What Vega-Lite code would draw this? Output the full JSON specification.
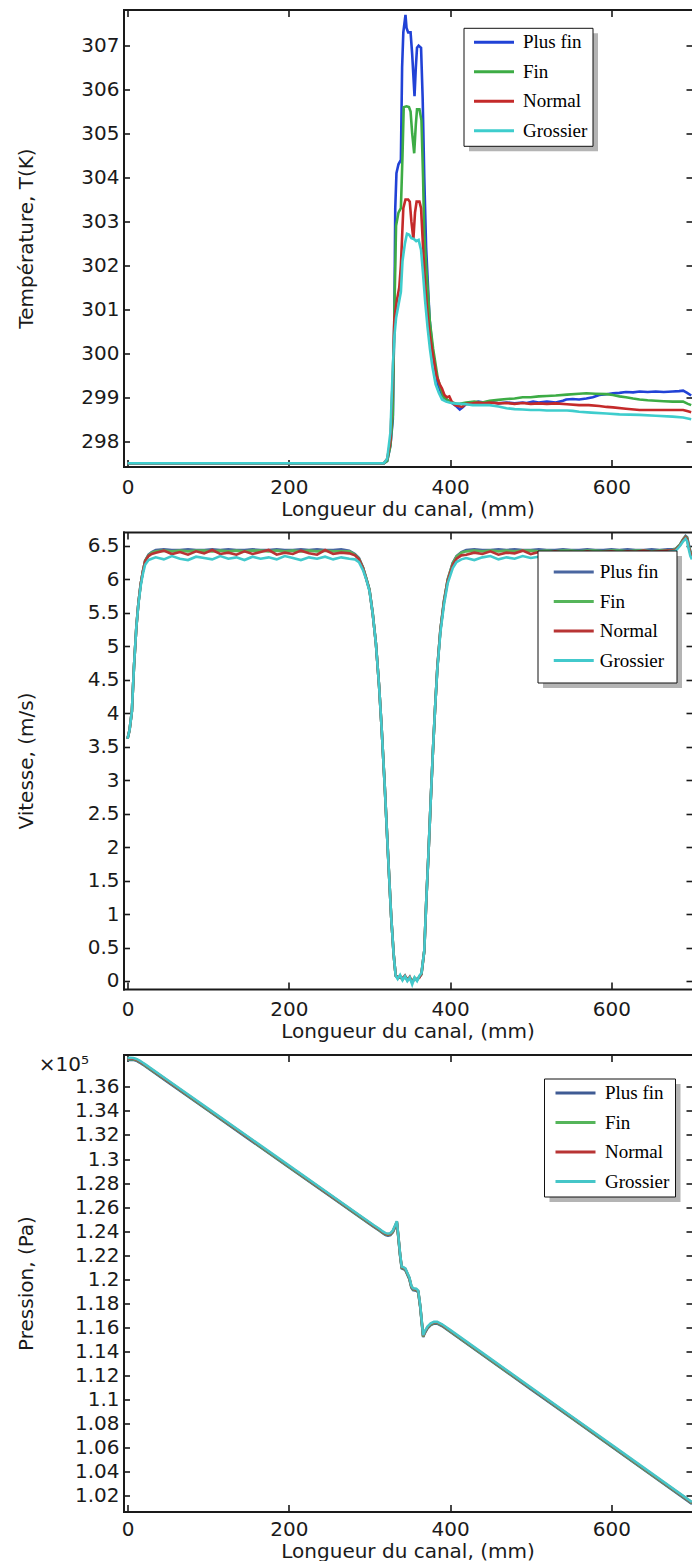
{
"$schema": "https://vega.github.io/schema/vega-lite/v6.json",
"background": "white",
"padding": {"left": 16.5, "top": 8.5, "right": 0, "bottom": 0},
"spacing": 11.5,
"config": {
  "view": {"stroke": null},
  "axis": {"grid": false, "domain": true, "domainColor": "#1a1a1a", "domainWidth": 2, "domainCap": "square", "tickColor": "#1a1a1a", "tickWidth": 1.6, "labelFont": "DejaVu Sans", "labelFontSize": 20, "labelColor": "#1a1a1a", "titleFont": "DejaVu Sans", "titleFontSize": 20, "titleFontWeight": "normal", "titleColor": "#1a1a1a", "labelOverlap": false, "labelFlush": false, "labelBound": false},
  "legend": {"labelFont": "Liberation Serif", "labelFontSize": 19, "labelColor": "#000000", "symbolType": "M-2.5,0H2.5", "symbolSize": 256, "symbolStrokeWidth": 3, "rowPadding": 9.5}
},
"datasets": {
"temp": [
{"x":0,"T":297.5,"m":"Plus fin"},{"x":100,"T":297.5,"m":"Plus fin"},{"x":200,"T":297.5,"m":"Plus fin"},{"x":300,"T":297.5,"m":"Plus fin"},{"x":318,"T":297.5,"m":"Plus fin"},{"x":322,"T":297.55,"m":"Plus fin"},{"x":326,"T":297.9,"m":"Plus fin"},{"x":329,"T":298.5,"m":"Plus fin"},{"x":331,"T":301.0,"m":"Plus fin"},{"x":332,"T":303.3,"m":"Plus fin"},{"x":333.5,"T":304.1,"m":"Plus fin"},{"x":336,"T":304.3,"m":"Plus fin"},{"x":339,"T":304.4,"m":"Plus fin"},{"x":340.5,"T":306.5,"m":"Plus fin"},{"x":342,"T":307.3,"m":"Plus fin"},{"x":344.7,"T":307.7,"m":"Plus fin"},{"x":346,"T":307.4,"m":"Plus fin"},{"x":348,"T":307.3,"m":"Plus fin"},{"x":351,"T":307.3,"m":"Plus fin"},{"x":353,"T":306.8,"m":"Plus fin"},{"x":355.9,"T":305.85,"m":"Plus fin"},{"x":357.5,"T":306.5,"m":"Plus fin"},{"x":359,"T":306.95,"m":"Plus fin"},{"x":361,"T":307.0,"m":"Plus fin"},{"x":364,"T":306.95,"m":"Plus fin"},{"x":366,"T":305.8,"m":"Plus fin"},{"x":368,"T":304.0,"m":"Plus fin"},{"x":370.3,"T":302.4,"m":"Plus fin"},{"x":374.5,"T":300.8,"m":"Plus fin"},{"x":378.6,"T":300.0,"m":"Plus fin"},{"x":384.8,"T":299.3,"m":"Plus fin"},{"x":390,"T":299.05,"m":"Plus fin"},{"x":395,"T":298.95,"m":"Plus fin"},{"x":400,"T":298.9,"m":"Plus fin"},{"x":407.5,"T":298.8,"m":"Plus fin"},{"x":412,"T":298.72,"m":"Plus fin"},{"x":416,"T":298.78,"m":"Plus fin"},{"x":420,"T":298.85,"m":"Plus fin"},{"x":428,"T":298.86,"m":"Plus fin"},{"x":435,"T":298.9,"m":"Plus fin"},{"x":442,"T":298.88,"m":"Plus fin"},{"x":449,"T":298.9,"m":"Plus fin"},{"x":460,"T":298.86,"m":"Plus fin"},{"x":470,"T":298.88,"m":"Plus fin"},{"x":480,"T":298.86,"m":"Plus fin"},{"x":490,"T":298.88,"m":"Plus fin"},{"x":495,"T":298.87,"m":"Plus fin"},{"x":503,"T":298.9,"m":"Plus fin"},{"x":510,"T":298.88,"m":"Plus fin"},{"x":520,"T":298.9,"m":"Plus fin"},{"x":531,"T":298.88,"m":"Plus fin"},{"x":540,"T":298.92,"m":"Plus fin"},{"x":544,"T":298.95,"m":"Plus fin"},{"x":552,"T":298.96,"m":"Plus fin"},{"x":560,"T":298.95,"m":"Plus fin"},{"x":569,"T":298.97,"m":"Plus fin"},{"x":577,"T":299.0,"m":"Plus fin"},{"x":585,"T":299.05,"m":"Plus fin"},{"x":594,"T":299.07,"m":"Plus fin"},{"x":602,"T":299.09,"m":"Plus fin"},{"x":610,"T":299.1,"m":"Plus fin"},{"x":618,"T":299.12,"m":"Plus fin"},{"x":627,"T":299.11,"m":"Plus fin"},{"x":635,"T":299.13,"m":"Plus fin"},{"x":645,"T":299.12,"m":"Plus fin"},{"x":655,"T":299.13,"m":"Plus fin"},{"x":665,"T":299.12,"m":"Plus fin"},{"x":676,"T":299.13,"m":"Plus fin"},{"x":684,"T":299.14,"m":"Plus fin"},{"x":689,"T":299.15,"m":"Plus fin"},{"x":694,"T":299.1,"m":"Plus fin"},{"x":699,"T":299.04,"m":"Plus fin"},
{"x":0,"T":297.5,"m":"Fin"},{"x":100,"T":297.5,"m":"Fin"},{"x":200,"T":297.5,"m":"Fin"},{"x":300,"T":297.5,"m":"Fin"},{"x":318,"T":297.5,"m":"Fin"},{"x":322,"T":297.55,"m":"Fin"},{"x":326,"T":297.9,"m":"Fin"},{"x":329,"T":298.6,"m":"Fin"},{"x":331,"T":301.0,"m":"Fin"},{"x":333,"T":302.9,"m":"Fin"},{"x":336,"T":303.2,"m":"Fin"},{"x":339,"T":303.3,"m":"Fin"},{"x":341,"T":304.5,"m":"Fin"},{"x":342.5,"T":305.6,"m":"Fin"},{"x":346,"T":305.62,"m":"Fin"},{"x":349,"T":305.6,"m":"Fin"},{"x":351,"T":305.5,"m":"Fin"},{"x":353,"T":305.0,"m":"Fin"},{"x":355.5,"T":304.55,"m":"Fin"},{"x":357.5,"T":305.2,"m":"Fin"},{"x":359,"T":305.55,"m":"Fin"},{"x":362,"T":305.55,"m":"Fin"},{"x":364.5,"T":305.3,"m":"Fin"},{"x":366.5,"T":304.0,"m":"Fin"},{"x":368,"T":302.7,"m":"Fin"},{"x":371,"T":301.8,"m":"Fin"},{"x":375,"T":300.7,"m":"Fin"},{"x":379,"T":300.1,"m":"Fin"},{"x":385,"T":299.4,"m":"Fin"},{"x":392,"T":299.0,"m":"Fin"},{"x":400,"T":298.9,"m":"Fin"},{"x":408,"T":298.85,"m":"Fin"},{"x":412,"T":298.85,"m":"Fin"},{"x":420,"T":298.88,"m":"Fin"},{"x":430,"T":298.9,"m":"Fin"},{"x":440,"T":298.88,"m":"Fin"},{"x":449,"T":298.92,"m":"Fin"},{"x":460,"T":298.94,"m":"Fin"},{"x":470,"T":298.96,"m":"Fin"},{"x":480,"T":298.97,"m":"Fin"},{"x":490,"T":299.0,"m":"Fin"},{"x":500,"T":299.0,"m":"Fin"},{"x":510,"T":299.02,"m":"Fin"},{"x":520,"T":299.03,"m":"Fin"},{"x":531,"T":299.04,"m":"Fin"},{"x":545,"T":299.06,"m":"Fin"},{"x":560,"T":299.08,"m":"Fin"},{"x":569,"T":299.09,"m":"Fin"},{"x":580,"T":299.08,"m":"Fin"},{"x":594,"T":299.07,"m":"Fin"},{"x":602,"T":299.05,"m":"Fin"},{"x":610,"T":299.02,"m":"Fin"},{"x":618,"T":299.0,"m":"Fin"},{"x":627,"T":298.97,"m":"Fin"},{"x":635,"T":298.95,"m":"Fin"},{"x":645,"T":298.93,"m":"Fin"},{"x":655,"T":298.92,"m":"Fin"},{"x":665,"T":298.91,"m":"Fin"},{"x":676,"T":298.9,"m":"Fin"},{"x":689,"T":298.9,"m":"Fin"},{"x":695,"T":298.85,"m":"Fin"},{"x":699,"T":298.82,"m":"Fin"},
{"x":0,"T":297.5,"m":"Normal"},{"x":100,"T":297.5,"m":"Normal"},{"x":200,"T":297.5,"m":"Normal"},{"x":300,"T":297.5,"m":"Normal"},{"x":318,"T":297.5,"m":"Normal"},{"x":322,"T":297.6,"m":"Normal"},{"x":326,"T":298.0,"m":"Normal"},{"x":329,"T":299.5,"m":"Normal"},{"x":331,"T":300.8,"m":"Normal"},{"x":334,"T":301.2,"m":"Normal"},{"x":337,"T":301.5,"m":"Normal"},{"x":339,"T":302.0,"m":"Normal"},{"x":340.6,"T":302.7,"m":"Normal"},{"x":342,"T":303.3,"m":"Normal"},{"x":344.7,"T":303.5,"m":"Normal"},{"x":348,"T":303.5,"m":"Normal"},{"x":350,"T":303.45,"m":"Normal"},{"x":352,"T":303.0,"m":"Normal"},{"x":354.5,"T":302.6,"m":"Normal"},{"x":356.5,"T":303.2,"m":"Normal"},{"x":358.5,"T":303.45,"m":"Normal"},{"x":362,"T":303.45,"m":"Normal"},{"x":364,"T":303.3,"m":"Normal"},{"x":366.5,"T":302.4,"m":"Normal"},{"x":369,"T":301.6,"m":"Normal"},{"x":372,"T":300.9,"m":"Normal"},{"x":375,"T":300.4,"m":"Normal"},{"x":378,"T":300.05,"m":"Normal"},{"x":383,"T":299.5,"m":"Normal"},{"x":387,"T":299.3,"m":"Normal"},{"x":390,"T":299.2,"m":"Normal"},{"x":393,"T":299.05,"m":"Normal"},{"x":396,"T":299.0,"m":"Normal"},{"x":399,"T":299.02,"m":"Normal"},{"x":402,"T":298.9,"m":"Normal"},{"x":406,"T":298.82,"m":"Normal"},{"x":410,"T":298.8,"m":"Normal"},{"x":415,"T":298.78,"m":"Normal"},{"x":420,"T":298.85,"m":"Normal"},{"x":428,"T":298.86,"m":"Normal"},{"x":435,"T":298.88,"m":"Normal"},{"x":442,"T":298.86,"m":"Normal"},{"x":449,"T":298.88,"m":"Normal"},{"x":460,"T":298.86,"m":"Normal"},{"x":470,"T":298.87,"m":"Normal"},{"x":480,"T":298.85,"m":"Normal"},{"x":490,"T":298.87,"m":"Normal"},{"x":500,"T":298.85,"m":"Normal"},{"x":510,"T":298.86,"m":"Normal"},{"x":520,"T":298.85,"m":"Normal"},{"x":531,"T":298.86,"m":"Normal"},{"x":545,"T":298.84,"m":"Normal"},{"x":560,"T":298.82,"m":"Normal"},{"x":572,"T":298.82,"m":"Normal"},{"x":585,"T":298.8,"m":"Normal"},{"x":594,"T":298.78,"m":"Normal"},{"x":602,"T":298.77,"m":"Normal"},{"x":618,"T":298.74,"m":"Normal"},{"x":635,"T":298.71,"m":"Normal"},{"x":655,"T":298.71,"m":"Normal"},{"x":676,"T":298.71,"m":"Normal"},{"x":689,"T":298.71,"m":"Normal"},{"x":695,"T":298.68,"m":"Normal"},{"x":699,"T":298.66,"m":"Normal"},
{"x":0,"T":297.5,"m":"Grossier"},{"x":100,"T":297.5,"m":"Grossier"},{"x":200,"T":297.5,"m":"Grossier"},{"x":300,"T":297.5,"m":"Grossier"},{"x":318,"T":297.5,"m":"Grossier"},{"x":322,"T":297.6,"m":"Grossier"},{"x":326,"T":298.2,"m":"Grossier"},{"x":329,"T":299.7,"m":"Grossier"},{"x":331,"T":300.4,"m":"Grossier"},{"x":333,"T":300.8,"m":"Grossier"},{"x":336,"T":301.1,"m":"Grossier"},{"x":339,"T":301.4,"m":"Grossier"},{"x":341,"T":302.1,"m":"Grossier"},{"x":344,"T":302.5,"m":"Grossier"},{"x":346.5,"T":302.72,"m":"Grossier"},{"x":349,"T":302.7,"m":"Grossier"},{"x":352,"T":302.62,"m":"Grossier"},{"x":355,"T":302.6,"m":"Grossier"},{"x":358,"T":302.55,"m":"Grossier"},{"x":361,"T":302.58,"m":"Grossier"},{"x":364,"T":302.35,"m":"Grossier"},{"x":366.5,"T":301.8,"m":"Grossier"},{"x":369,"T":301.2,"m":"Grossier"},{"x":372,"T":300.6,"m":"Grossier"},{"x":375,"T":300.1,"m":"Grossier"},{"x":378,"T":299.7,"m":"Grossier"},{"x":382,"T":299.3,"m":"Grossier"},{"x":386,"T":299.1,"m":"Grossier"},{"x":390,"T":298.95,"m":"Grossier"},{"x":395,"T":298.9,"m":"Grossier"},{"x":399,"T":298.88,"m":"Grossier"},{"x":405,"T":298.86,"m":"Grossier"},{"x":412,"T":298.85,"m":"Grossier"},{"x":420,"T":298.84,"m":"Grossier"},{"x":428,"T":298.82,"m":"Grossier"},{"x":440,"T":298.82,"m":"Grossier"},{"x":449,"T":298.82,"m":"Grossier"},{"x":460,"T":298.79,"m":"Grossier"},{"x":470,"T":298.75,"m":"Grossier"},{"x":480,"T":298.73,"m":"Grossier"},{"x":490,"T":298.72,"m":"Grossier"},{"x":500,"T":298.71,"m":"Grossier"},{"x":511,"T":298.71,"m":"Grossier"},{"x":520,"T":298.7,"m":"Grossier"},{"x":531,"T":298.7,"m":"Grossier"},{"x":545,"T":298.7,"m":"Grossier"},{"x":552,"T":298.69,"m":"Grossier"},{"x":560,"T":298.67,"m":"Grossier"},{"x":575,"T":298.65,"m":"Grossier"},{"x":594,"T":298.63,"m":"Grossier"},{"x":610,"T":298.61,"m":"Grossier"},{"x":635,"T":298.6,"m":"Grossier"},{"x":655,"T":298.58,"m":"Grossier"},{"x":676,"T":298.56,"m":"Grossier"},{"x":689,"T":298.54,"m":"Grossier"},{"x":699,"T":298.5,"m":"Grossier"}
],
"vit": [
{"x":0,"v":3.62,"m":"Plus fin"},{"x":2.5,"v":3.75,"m":"Plus fin"},{"x":5.4,"v":4.03,"m":"Plus fin"},{"x":8,"v":4.7,"m":"Plus fin"},{"x":10.9,"v":5.28,"m":"Plus fin"},{"x":13.5,"v":5.65,"m":"Plus fin"},{"x":16.3,"v":5.93,"m":"Plus fin"},{"x":19,"v":6.12,"m":"Plus fin"},{"x":21.8,"v":6.28,"m":"Plus fin"},{"x":26,"v":6.37,"m":"Plus fin"},{"x":30,"v":6.41,"m":"Plus fin"},
{"x":35,"v":6.44,"m":"Plus fin"},{"x":45,"v":6.45,"m":"Plus fin"},{"x":55,"v":6.44,"m":"Plus fin"},{"x":65,"v":6.44,"m":"Plus fin"},{"x":75,"v":6.45,"m":"Plus fin"},{"x":85,"v":6.44,"m":"Plus fin"},{"x":95,"v":6.44,"m":"Plus fin"},{"x":105,"v":6.45,"m":"Plus fin"},{"x":115,"v":6.44,"m":"Plus fin"},{"x":125,"v":6.45,"m":"Plus fin"},{"x":135,"v":6.44,"m":"Plus fin"},{"x":145,"v":6.44,"m":"Plus fin"},{"x":155,"v":6.45,"m":"Plus fin"},{"x":165,"v":6.44,"m":"Plus fin"},{"x":175,"v":6.44,"m":"Plus fin"},{"x":185,"v":6.45,"m":"Plus fin"},{"x":195,"v":6.44,"m":"Plus fin"},{"x":205,"v":6.44,"m":"Plus fin"},{"x":215,"v":6.45,"m":"Plus fin"},{"x":225,"v":6.44,"m":"Plus fin"},{"x":235,"v":6.45,"m":"Plus fin"},{"x":245,"v":6.44,"m":"Plus fin"},{"x":255,"v":6.44,"m":"Plus fin"},{"x":265,"v":6.45,"m":"Plus fin"},{"x":275,"v":6.43,"m":"Plus fin"},
{"x":282,"v":6.38,"m":"Plus fin"},{"x":287,"v":6.32,"m":"Plus fin"},{"x":292,"v":6.18,"m":"Plus fin"},{"x":296,"v":6.02,"m":"Plus fin"},{"x":300,"v":5.85,"m":"Plus fin"},{"x":304,"v":5.5,"m":"Plus fin"},{"x":308,"v":5.05,"m":"Plus fin"},{"x":312,"v":4.4,"m":"Plus fin"},{"x":315,"v":3.8,"m":"Plus fin"},{"x":319,"v":2.9,"m":"Plus fin"},{"x":323,"v":1.9,"m":"Plus fin"},{"x":327,"v":0.95,"m":"Plus fin"},{"x":330,"v":0.4,"m":"Plus fin"},{"x":332.5,"v":0.08,"m":"Plus fin"},
{"x":335,"v":0.05,"m":"Plus fin"},{"x":338,"v":0.07,"m":"Plus fin"},{"x":341,"v":0.03,"m":"Plus fin"},{"x":344,"v":0.06,"m":"Plus fin"},{"x":347,"v":0.02,"m":"Plus fin"},{"x":350,"v":0.04,"m":"Plus fin"},{"x":353,"v":0.0,"m":"Plus fin"},{"x":356,"v":0.04,"m":"Plus fin"},{"x":359,"v":0.02,"m":"Plus fin"},{"x":362,"v":0.06,"m":"Plus fin"},{"x":364.5,"v":0.1,"m":"Plus fin"},
{"x":368,"v":0.45,"m":"Plus fin"},{"x":370.5,"v":1.2,"m":"Plus fin"},{"x":373.3,"v":1.93,"m":"Plus fin"},{"x":376,"v":2.7,"m":"Plus fin"},{"x":378.7,"v":3.43,"m":"Plus fin"},{"x":381.5,"v":4.1,"m":"Plus fin"},{"x":384.2,"v":4.68,"m":"Plus fin"},{"x":388,"v":5.25,"m":"Plus fin"},{"x":392.4,"v":5.68,"m":"Plus fin"},{"x":397,"v":6.0,"m":"Plus fin"},{"x":403.3,"v":6.25,"m":"Plus fin"},{"x":408,"v":6.35,"m":"Plus fin"},{"x":414,"v":6.41,"m":"Plus fin"},
{"x":420,"v":6.44,"m":"Plus fin"},{"x":430,"v":6.45,"m":"Plus fin"},{"x":440,"v":6.44,"m":"Plus fin"},{"x":450,"v":6.44,"m":"Plus fin"},{"x":460,"v":6.45,"m":"Plus fin"},{"x":470,"v":6.44,"m":"Plus fin"},{"x":480,"v":6.45,"m":"Plus fin"},{"x":490,"v":6.44,"m":"Plus fin"},{"x":500,"v":6.44,"m":"Plus fin"},{"x":510,"v":6.45,"m":"Plus fin"},{"x":520,"v":6.44,"m":"Plus fin"},{"x":530,"v":6.44,"m":"Plus fin"},{"x":540,"v":6.45,"m":"Plus fin"},{"x":550,"v":6.44,"m":"Plus fin"},{"x":560,"v":6.44,"m":"Plus fin"},{"x":570,"v":6.45,"m":"Plus fin"},{"x":580,"v":6.44,"m":"Plus fin"},{"x":590,"v":6.44,"m":"Plus fin"},{"x":600,"v":6.45,"m":"Plus fin"},{"x":610,"v":6.44,"m":"Plus fin"},{"x":620,"v":6.45,"m":"Plus fin"},{"x":630,"v":6.44,"m":"Plus fin"},{"x":640,"v":6.44,"m":"Plus fin"},{"x":650,"v":6.45,"m":"Plus fin"},{"x":660,"v":6.44,"m":"Plus fin"},{"x":670,"v":6.45,"m":"Plus fin"},{"x":676,"v":6.45,"m":"Plus fin"},
{"x":680,"v":6.46,"m":"Plus fin"},{"x":685,"v":6.52,"m":"Plus fin"},{"x":689,"v":6.6,"m":"Plus fin"},{"x":692,"v":6.65,"m":"Plus fin"},{"x":694,"v":6.63,"m":"Plus fin"},{"x":696,"v":6.52,"m":"Plus fin"},{"x":698,"v":6.42,"m":"Plus fin"},{"x":700,"v":6.38,"m":"Plus fin"},
{"x":0,"v":3.62,"m":"Fin"},{"x":2.5,"v":3.75,"m":"Fin"},{"x":5.4,"v":4.03,"m":"Fin"},{"x":8,"v":4.7,"m":"Fin"},{"x":10.9,"v":5.28,"m":"Fin"},{"x":13.5,"v":5.65,"m":"Fin"},{"x":16.3,"v":5.93,"m":"Fin"},{"x":19,"v":6.12,"m":"Fin"},{"x":21.8,"v":6.28,"m":"Fin"},{"x":26,"v":6.36,"m":"Fin"},{"x":30,"v":6.4,"m":"Fin"},
{"x":35,"v":6.42,"m":"Fin"},{"x":45,"v":6.43,"m":"Fin"},{"x":55,"v":6.42,"m":"Fin"},{"x":65,"v":6.43,"m":"Fin"},{"x":75,"v":6.42,"m":"Fin"},{"x":85,"v":6.43,"m":"Fin"},{"x":95,"v":6.43,"m":"Fin"},{"x":105,"v":6.42,"m":"Fin"},{"x":115,"v":6.43,"m":"Fin"},{"x":125,"v":6.42,"m":"Fin"},{"x":135,"v":6.43,"m":"Fin"},{"x":145,"v":6.42,"m":"Fin"},{"x":155,"v":6.43,"m":"Fin"},{"x":165,"v":6.43,"m":"Fin"},{"x":175,"v":6.42,"m":"Fin"},{"x":185,"v":6.43,"m":"Fin"},{"x":195,"v":6.42,"m":"Fin"},{"x":205,"v":6.43,"m":"Fin"},{"x":215,"v":6.42,"m":"Fin"},{"x":225,"v":6.43,"m":"Fin"},{"x":235,"v":6.42,"m":"Fin"},{"x":245,"v":6.43,"m":"Fin"},{"x":255,"v":6.42,"m":"Fin"},{"x":265,"v":6.42,"m":"Fin"},{"x":275,"v":6.42,"m":"Fin"},
{"x":282,"v":6.37,"m":"Fin"},{"x":287,"v":6.31,"m":"Fin"},{"x":292,"v":6.18,"m":"Fin"},{"x":296,"v":6.02,"m":"Fin"},{"x":300,"v":5.85,"m":"Fin"},{"x":304,"v":5.5,"m":"Fin"},{"x":308,"v":5.05,"m":"Fin"},{"x":312,"v":4.4,"m":"Fin"},{"x":315,"v":3.8,"m":"Fin"},{"x":319,"v":2.9,"m":"Fin"},{"x":323,"v":1.9,"m":"Fin"},{"x":327,"v":0.95,"m":"Fin"},{"x":330,"v":0.4,"m":"Fin"},{"x":332.5,"v":0.08,"m":"Fin"},
{"x":335,"v":0.04,"m":"Fin"},{"x":338,"v":0.08,"m":"Fin"},{"x":341,"v":0.02,"m":"Fin"},{"x":344,"v":0.07,"m":"Fin"},{"x":347,"v":0.03,"m":"Fin"},{"x":350,"v":0.05,"m":"Fin"},{"x":353,"v":-0.01,"m":"Fin"},{"x":356,"v":0.05,"m":"Fin"},{"x":359,"v":0.01,"m":"Fin"},{"x":362,"v":0.07,"m":"Fin"},{"x":364.5,"v":0.1,"m":"Fin"},
{"x":368,"v":0.45,"m":"Fin"},{"x":370.5,"v":1.2,"m":"Fin"},{"x":373.3,"v":1.93,"m":"Fin"},{"x":376,"v":2.7,"m":"Fin"},{"x":378.7,"v":3.43,"m":"Fin"},{"x":381.5,"v":4.1,"m":"Fin"},{"x":384.2,"v":4.68,"m":"Fin"},{"x":388,"v":5.25,"m":"Fin"},{"x":392.4,"v":5.68,"m":"Fin"},{"x":397,"v":6.0,"m":"Fin"},{"x":403.3,"v":6.24,"m":"Fin"},{"x":408,"v":6.34,"m":"Fin"},{"x":414,"v":6.4,"m":"Fin"},
{"x":420,"v":6.42,"m":"Fin"},{"x":430,"v":6.43,"m":"Fin"},{"x":440,"v":6.42,"m":"Fin"},{"x":450,"v":6.43,"m":"Fin"},{"x":460,"v":6.42,"m":"Fin"},{"x":470,"v":6.43,"m":"Fin"},{"x":480,"v":6.42,"m":"Fin"},{"x":490,"v":6.43,"m":"Fin"},{"x":500,"v":6.43,"m":"Fin"},{"x":510,"v":6.42,"m":"Fin"},{"x":520,"v":6.43,"m":"Fin"},{"x":530,"v":6.42,"m":"Fin"},{"x":540,"v":6.43,"m":"Fin"},{"x":550,"v":6.43,"m":"Fin"},{"x":560,"v":6.42,"m":"Fin"},{"x":570,"v":6.43,"m":"Fin"},{"x":580,"v":6.43,"m":"Fin"},{"x":590,"v":6.42,"m":"Fin"},{"x":600,"v":6.43,"m":"Fin"},{"x":610,"v":6.43,"m":"Fin"},{"x":620,"v":6.42,"m":"Fin"},{"x":630,"v":6.43,"m":"Fin"},{"x":640,"v":6.43,"m":"Fin"},{"x":650,"v":6.42,"m":"Fin"},{"x":660,"v":6.43,"m":"Fin"},{"x":670,"v":6.43,"m":"Fin"},{"x":676,"v":6.44,"m":"Fin"},
{"x":680,"v":6.46,"m":"Fin"},{"x":685,"v":6.52,"m":"Fin"},{"x":689,"v":6.6,"m":"Fin"},{"x":692,"v":6.64,"m":"Fin"},{"x":694,"v":6.62,"m":"Fin"},{"x":696,"v":6.5,"m":"Fin"},{"x":698,"v":6.41,"m":"Fin"},{"x":700,"v":6.37,"m":"Fin"},
{"x":0,"v":3.62,"m":"Normal"},{"x":2.5,"v":3.75,"m":"Normal"},{"x":5.4,"v":4.03,"m":"Normal"},{"x":8,"v":4.7,"m":"Normal"},{"x":10.9,"v":5.28,"m":"Normal"},{"x":13.5,"v":5.65,"m":"Normal"},{"x":16.3,"v":5.93,"m":"Normal"},{"x":19,"v":6.12,"m":"Normal"},{"x":21.8,"v":6.27,"m":"Normal"},{"x":26,"v":6.35,"m":"Normal"},{"x":30,"v":6.38,"m":"Normal"},
{"x":35,"v":6.4,"m":"Normal"},{"x":45,"v":6.43,"m":"Normal"},{"x":55,"v":6.38,"m":"Normal"},{"x":65,"v":6.41,"m":"Normal"},{"x":75,"v":6.37,"m":"Normal"},{"x":85,"v":6.42,"m":"Normal"},{"x":95,"v":6.39,"m":"Normal"},{"x":105,"v":6.44,"m":"Normal"},{"x":115,"v":6.38,"m":"Normal"},{"x":125,"v":6.4,"m":"Normal"},{"x":135,"v":6.37,"m":"Normal"},{"x":145,"v":6.42,"m":"Normal"},{"x":155,"v":6.38,"m":"Normal"},{"x":165,"v":6.41,"m":"Normal"},{"x":175,"v":6.44,"m":"Normal"},{"x":185,"v":6.37,"m":"Normal"},{"x":195,"v":6.4,"m":"Normal"},{"x":205,"v":6.38,"m":"Normal"},{"x":215,"v":6.43,"m":"Normal"},{"x":225,"v":6.39,"m":"Normal"},{"x":235,"v":6.37,"m":"Normal"},{"x":245,"v":6.44,"m":"Normal"},{"x":255,"v":6.38,"m":"Normal"},{"x":265,"v":6.4,"m":"Normal"},{"x":275,"v":6.39,"m":"Normal"},
{"x":282,"v":6.36,"m":"Normal"},{"x":287,"v":6.3,"m":"Normal"},{"x":292,"v":6.17,"m":"Normal"},{"x":296,"v":6.01,"m":"Normal"},{"x":300,"v":5.84,"m":"Normal"},{"x":304,"v":5.49,"m":"Normal"},{"x":308,"v":5.04,"m":"Normal"},{"x":312,"v":4.4,"m":"Normal"},{"x":315,"v":3.8,"m":"Normal"},{"x":319,"v":2.9,"m":"Normal"},{"x":323,"v":1.9,"m":"Normal"},{"x":327,"v":0.95,"m":"Normal"},{"x":330,"v":0.4,"m":"Normal"},{"x":332.5,"v":0.08,"m":"Normal"},
{"x":335,"v":0.06,"m":"Normal"},{"x":338,"v":0.05,"m":"Normal"},{"x":341,"v":0.04,"m":"Normal"},{"x":344,"v":0.08,"m":"Normal"},{"x":347,"v":0.01,"m":"Normal"},{"x":350,"v":0.06,"m":"Normal"},{"x":353,"v":-0.02,"m":"Normal"},{"x":356,"v":0.03,"m":"Normal"},{"x":359,"v":0.03,"m":"Normal"},{"x":362,"v":0.05,"m":"Normal"},{"x":364.5,"v":0.11,"m":"Normal"},
{"x":368,"v":0.45,"m":"Normal"},{"x":370.5,"v":1.2,"m":"Normal"},{"x":373.3,"v":1.93,"m":"Normal"},{"x":376,"v":2.7,"m":"Normal"},{"x":378.7,"v":3.43,"m":"Normal"},{"x":381.5,"v":4.1,"m":"Normal"},{"x":384.2,"v":4.68,"m":"Normal"},{"x":388,"v":5.24,"m":"Normal"},{"x":392.4,"v":5.66,"m":"Normal"},{"x":397,"v":5.98,"m":"Normal"},{"x":403.3,"v":6.22,"m":"Normal"},{"x":408,"v":6.31,"m":"Normal"},{"x":414,"v":6.36,"m":"Normal"},
{"x":420,"v":6.37,"m":"Normal"},{"x":430,"v":6.4,"m":"Normal"},{"x":440,"v":6.38,"m":"Normal"},{"x":450,"v":6.42,"m":"Normal"},{"x":460,"v":6.37,"m":"Normal"},{"x":470,"v":6.4,"m":"Normal"},{"x":480,"v":6.39,"m":"Normal"},{"x":490,"v":6.43,"m":"Normal"},{"x":500,"v":6.38,"m":"Normal"},{"x":510,"v":6.41,"m":"Normal"},{"x":520,"v":6.39,"m":"Normal"},{"x":530,"v":6.42,"m":"Normal"},{"x":540,"v":6.4,"m":"Normal"},{"x":550,"v":6.41,"m":"Normal"},{"x":560,"v":6.39,"m":"Normal"},{"x":570,"v":6.42,"m":"Normal"},{"x":580,"v":6.4,"m":"Normal"},{"x":590,"v":6.41,"m":"Normal"},{"x":600,"v":6.42,"m":"Normal"},{"x":610,"v":6.4,"m":"Normal"},{"x":620,"v":6.42,"m":"Normal"},{"x":630,"v":6.41,"m":"Normal"},{"x":640,"v":6.43,"m":"Normal"},{"x":650,"v":6.41,"m":"Normal"},{"x":660,"v":6.42,"m":"Normal"},{"x":670,"v":6.43,"m":"Normal"},{"x":676,"v":6.43,"m":"Normal"},
{"x":680,"v":6.45,"m":"Normal"},{"x":685,"v":6.51,"m":"Normal"},{"x":689,"v":6.59,"m":"Normal"},{"x":692,"v":6.63,"m":"Normal"},{"x":694,"v":6.6,"m":"Normal"},{"x":696,"v":6.48,"m":"Normal"},{"x":698,"v":6.39,"m":"Normal"},{"x":700,"v":6.35,"m":"Normal"},
{"x":0,"v":3.62,"m":"Grossier"},{"x":2.5,"v":3.75,"m":"Grossier"},{"x":5.4,"v":4.03,"m":"Grossier"},{"x":8,"v":4.7,"m":"Grossier"},{"x":10.9,"v":5.28,"m":"Grossier"},{"x":13.5,"v":5.63,"m":"Grossier"},{"x":16.3,"v":5.9,"m":"Grossier"},{"x":19,"v":6.08,"m":"Grossier"},{"x":21.8,"v":6.22,"m":"Grossier"},{"x":26,"v":6.29,"m":"Grossier"},{"x":30,"v":6.31,"m":"Grossier"},
{"x":35,"v":6.33,"m":"Grossier"},{"x":45,"v":6.3,"m":"Grossier"},{"x":55,"v":6.35,"m":"Grossier"},{"x":65,"v":6.31,"m":"Grossier"},{"x":75,"v":6.29,"m":"Grossier"},{"x":85,"v":6.34,"m":"Grossier"},{"x":95,"v":6.32,"m":"Grossier"},{"x":105,"v":6.3,"m":"Grossier"},{"x":115,"v":6.35,"m":"Grossier"},{"x":125,"v":6.31,"m":"Grossier"},{"x":135,"v":6.33,"m":"Grossier"},{"x":145,"v":6.29,"m":"Grossier"},{"x":155,"v":6.34,"m":"Grossier"},{"x":165,"v":6.31,"m":"Grossier"},{"x":175,"v":6.33,"m":"Grossier"},{"x":185,"v":6.3,"m":"Grossier"},{"x":195,"v":6.35,"m":"Grossier"},{"x":205,"v":6.32,"m":"Grossier"},{"x":215,"v":6.29,"m":"Grossier"},{"x":225,"v":6.33,"m":"Grossier"},{"x":235,"v":6.31,"m":"Grossier"},{"x":245,"v":6.34,"m":"Grossier"},{"x":255,"v":6.3,"m":"Grossier"},{"x":265,"v":6.33,"m":"Grossier"},{"x":275,"v":6.31,"m":"Grossier"},
{"x":282,"v":6.3,"m":"Grossier"},{"x":287,"v":6.26,"m":"Grossier"},{"x":292,"v":6.14,"m":"Grossier"},{"x":296,"v":6.0,"m":"Grossier"},{"x":300,"v":5.83,"m":"Grossier"},{"x":304,"v":5.49,"m":"Grossier"},{"x":308,"v":5.04,"m":"Grossier"},{"x":312,"v":4.4,"m":"Grossier"},{"x":315,"v":3.8,"m":"Grossier"},{"x":319,"v":2.9,"m":"Grossier"},{"x":323,"v":1.9,"m":"Grossier"},{"x":327,"v":0.95,"m":"Grossier"},{"x":330,"v":0.4,"m":"Grossier"},{"x":332.5,"v":0.08,"m":"Grossier"},
{"x":335,"v":0.03,"m":"Grossier"},{"x":338,"v":0.09,"m":"Grossier"},{"x":341,"v":0.01,"m":"Grossier"},{"x":344,"v":0.07,"m":"Grossier"},{"x":347,"v":0.0,"m":"Grossier"},{"x":350,"v":0.05,"m":"Grossier"},{"x":353,"v":-0.05,"m":"Grossier"},{"x":356,"v":0.05,"m":"Grossier"},{"x":359,"v":0.0,"m":"Grossier"},{"x":362,"v":0.08,"m":"Grossier"},{"x":364.5,"v":0.12,"m":"Grossier"},
{"x":368,"v":0.45,"m":"Grossier"},{"x":370.5,"v":1.2,"m":"Grossier"},{"x":373.3,"v":1.93,"m":"Grossier"},{"x":376,"v":2.7,"m":"Grossier"},{"x":378.7,"v":3.43,"m":"Grossier"},{"x":381.5,"v":4.1,"m":"Grossier"},{"x":384.2,"v":4.66,"m":"Grossier"},{"x":388,"v":5.21,"m":"Grossier"},{"x":392.4,"v":5.62,"m":"Grossier"},{"x":397,"v":5.94,"m":"Grossier"},{"x":403.3,"v":6.17,"m":"Grossier"},{"x":408,"v":6.26,"m":"Grossier"},{"x":414,"v":6.3,"m":"Grossier"},
{"x":420,"v":6.32,"m":"Grossier"},{"x":430,"v":6.29,"m":"Grossier"},{"x":440,"v":6.33,"m":"Grossier"},{"x":450,"v":6.35,"m":"Grossier"},{"x":460,"v":6.3,"m":"Grossier"},{"x":470,"v":6.33,"m":"Grossier"},{"x":480,"v":6.31,"m":"Grossier"},{"x":490,"v":6.35,"m":"Grossier"},{"x":500,"v":6.32,"m":"Grossier"},{"x":510,"v":6.34,"m":"Grossier"},{"x":520,"v":6.36,"m":"Grossier"},{"x":530,"v":6.35,"m":"Grossier"},{"x":540,"v":6.37,"m":"Grossier"},{"x":550,"v":6.36,"m":"Grossier"},{"x":560,"v":6.38,"m":"Grossier"},{"x":570,"v":6.37,"m":"Grossier"},{"x":580,"v":6.38,"m":"Grossier"},{"x":590,"v":6.39,"m":"Grossier"},{"x":600,"v":6.38,"m":"Grossier"},{"x":610,"v":6.39,"m":"Grossier"},{"x":620,"v":6.4,"m":"Grossier"},{"x":630,"v":6.39,"m":"Grossier"},{"x":640,"v":6.4,"m":"Grossier"},{"x":650,"v":6.41,"m":"Grossier"},{"x":660,"v":6.4,"m":"Grossier"},{"x":670,"v":6.41,"m":"Grossier"},{"x":676,"v":6.42,"m":"Grossier"},
{"x":680,"v":6.43,"m":"Grossier"},{"x":685,"v":6.5,"m":"Grossier"},{"x":689,"v":6.57,"m":"Grossier"},{"x":692,"v":6.61,"m":"Grossier"},{"x":694,"v":6.57,"m":"Grossier"},{"x":696,"v":6.45,"m":"Grossier"},{"x":698,"v":6.35,"m":"Grossier"},{"x":700,"v":6.3,"m":"Grossier"}
],
"pres": [
{"x":0,"P":138230,"m":"Plus fin"},{"x":3,"P":138270,"m":"Plus fin"},{"x":7,"P":138250,"m":"Plus fin"},{"x":11,"P":138180,"m":"Plus fin"},{"x":15,"P":138030,"m":"Plus fin"},{"x":19,"P":137860,"m":"Plus fin"},{"x":22,"P":137720,"m":"Plus fin"},{"x":50,"P":136400,"m":"Plus fin"},{"x":100,"P":134040,"m":"Plus fin"},{"x":150,"P":131680,"m":"Plus fin"},{"x":200,"P":129320,"m":"Plus fin"},{"x":250,"P":126960,"m":"Plus fin"},{"x":290,"P":125070,"m":"Plus fin"},{"x":305,"P":124360,"m":"Plus fin"},{"x":312,"P":124050,"m":"Plus fin"},{"x":317,"P":123800,"m":"Plus fin"},{"x":320,"P":123680,"m":"Plus fin"},{"x":323,"P":123630,"m":"Plus fin"},{"x":326,"P":123680,"m":"Plus fin"},{"x":329,"P":123900,"m":"Plus fin"},{"x":332,"P":124350,"m":"Plus fin"},{"x":334,"P":124680,"m":"Plus fin"},{"x":336,"P":123350,"m":"Plus fin"},{"x":338,"P":121960,"m":"Plus fin"},{"x":340,"P":120900,"m":"Plus fin"},{"x":342,"P":120850,"m":"Plus fin"},{"x":344.5,"P":120750,"m":"Plus fin"},{"x":346.5,"P":120450,"m":"Plus fin"},{"x":349.5,"P":120000,"m":"Plus fin"},{"x":352,"P":119300,"m":"Plus fin"},{"x":354,"P":119100,"m":"Plus fin"},{"x":358,"P":119050,"m":"Plus fin"},{"x":360.5,"P":118900,"m":"Plus fin"},{"x":363,"P":117650,"m":"Plus fin"},{"x":366.6,"P":115180,"m":"Plus fin"},{"x":368.5,"P":115500,"m":"Plus fin"},{"x":372,"P":115900,"m":"Plus fin"},{"x":376,"P":116180,"m":"Plus fin"},{"x":380,"P":116310,"m":"Plus fin"},{"x":384,"P":116300,"m":"Plus fin"},{"x":390,"P":116100,"m":"Plus fin"},{"x":400,"P":115630,"m":"Plus fin"},{"x":450,"P":113240,"m":"Plus fin"},{"x":500,"P":110850,"m":"Plus fin"},{"x":550,"P":108470,"m":"Plus fin"},{"x":600,"P":106080,"m":"Plus fin"},{"x":650,"P":103690,"m":"Plus fin"},{"x":700,"P":101300,"m":"Plus fin"},
{"x":0,"P":138280,"m":"Fin"},{"x":3,"P":138320,"m":"Fin"},{"x":7,"P":138300,"m":"Fin"},{"x":11,"P":138230,"m":"Fin"},{"x":15,"P":138080,"m":"Fin"},{"x":19,"P":137910,"m":"Fin"},{"x":22,"P":137770,"m":"Fin"},{"x":50,"P":136450,"m":"Fin"},{"x":100,"P":134090,"m":"Fin"},{"x":150,"P":131730,"m":"Fin"},{"x":200,"P":129370,"m":"Fin"},{"x":250,"P":127010,"m":"Fin"},{"x":290,"P":125120,"m":"Fin"},{"x":305,"P":124410,"m":"Fin"},{"x":312,"P":124100,"m":"Fin"},{"x":317,"P":123850,"m":"Fin"},{"x":320,"P":123730,"m":"Fin"},{"x":323,"P":123680,"m":"Fin"},{"x":326,"P":123730,"m":"Fin"},{"x":329,"P":123950,"m":"Fin"},{"x":332,"P":124400,"m":"Fin"},{"x":334,"P":124730,"m":"Fin"},{"x":336,"P":123400,"m":"Fin"},{"x":338,"P":122010,"m":"Fin"},{"x":340,"P":120950,"m":"Fin"},{"x":342,"P":120900,"m":"Fin"},{"x":344.5,"P":120800,"m":"Fin"},{"x":346.5,"P":120500,"m":"Fin"},{"x":349.5,"P":120050,"m":"Fin"},{"x":352,"P":119350,"m":"Fin"},{"x":354,"P":119150,"m":"Fin"},{"x":358,"P":119100,"m":"Fin"},{"x":360.5,"P":118950,"m":"Fin"},{"x":363,"P":117700,"m":"Fin"},{"x":366.6,"P":115230,"m":"Fin"},{"x":368.5,"P":115550,"m":"Fin"},{"x":372,"P":115950,"m":"Fin"},{"x":376,"P":116230,"m":"Fin"},{"x":380,"P":116360,"m":"Fin"},{"x":384,"P":116350,"m":"Fin"},{"x":390,"P":116150,"m":"Fin"},{"x":400,"P":115680,"m":"Fin"},{"x":450,"P":113290,"m":"Fin"},{"x":500,"P":110900,"m":"Fin"},{"x":550,"P":108520,"m":"Fin"},{"x":600,"P":106130,"m":"Fin"},{"x":650,"P":103740,"m":"Fin"},{"x":700,"P":101350,"m":"Fin"},
{"x":0,"P":138330,"m":"Normal"},{"x":3,"P":138370,"m":"Normal"},{"x":7,"P":138350,"m":"Normal"},{"x":11,"P":138280,"m":"Normal"},{"x":15,"P":138130,"m":"Normal"},{"x":19,"P":137960,"m":"Normal"},{"x":22,"P":137820,"m":"Normal"},{"x":50,"P":136500,"m":"Normal"},{"x":100,"P":134140,"m":"Normal"},{"x":150,"P":131780,"m":"Normal"},{"x":200,"P":129420,"m":"Normal"},{"x":250,"P":127060,"m":"Normal"},{"x":290,"P":125170,"m":"Normal"},{"x":305,"P":124460,"m":"Normal"},{"x":312,"P":124150,"m":"Normal"},{"x":317,"P":123900,"m":"Normal"},{"x":320,"P":123780,"m":"Normal"},{"x":323,"P":123730,"m":"Normal"},{"x":326,"P":123780,"m":"Normal"},{"x":329,"P":124000,"m":"Normal"},{"x":332,"P":124450,"m":"Normal"},{"x":334,"P":124780,"m":"Normal"},{"x":336,"P":123450,"m":"Normal"},{"x":338,"P":122060,"m":"Normal"},{"x":340,"P":121000,"m":"Normal"},{"x":342,"P":120950,"m":"Normal"},{"x":344.5,"P":120850,"m":"Normal"},{"x":346.5,"P":120550,"m":"Normal"},{"x":349.5,"P":120100,"m":"Normal"},{"x":352,"P":119400,"m":"Normal"},{"x":354,"P":119200,"m":"Normal"},{"x":358,"P":119150,"m":"Normal"},{"x":360.5,"P":119000,"m":"Normal"},{"x":363,"P":117750,"m":"Normal"},{"x":366.6,"P":115280,"m":"Normal"},{"x":368.5,"P":115600,"m":"Normal"},{"x":372,"P":116000,"m":"Normal"},{"x":376,"P":116280,"m":"Normal"},{"x":380,"P":116410,"m":"Normal"},{"x":384,"P":116400,"m":"Normal"},{"x":390,"P":116200,"m":"Normal"},{"x":400,"P":115730,"m":"Normal"},{"x":450,"P":113340,"m":"Normal"},{"x":500,"P":110950,"m":"Normal"},{"x":550,"P":108570,"m":"Normal"},{"x":600,"P":106180,"m":"Normal"},{"x":650,"P":103790,"m":"Normal"},{"x":700,"P":101400,"m":"Normal"},
{"x":0,"P":138380,"m":"Grossier"},{"x":3,"P":138420,"m":"Grossier"},{"x":7,"P":138400,"m":"Grossier"},{"x":11,"P":138330,"m":"Grossier"},{"x":15,"P":138180,"m":"Grossier"},{"x":19,"P":138010,"m":"Grossier"},{"x":22,"P":137870,"m":"Grossier"},{"x":50,"P":136550,"m":"Grossier"},{"x":100,"P":134190,"m":"Grossier"},{"x":150,"P":131830,"m":"Grossier"},{"x":200,"P":129470,"m":"Grossier"},{"x":250,"P":127110,"m":"Grossier"},{"x":290,"P":125220,"m":"Grossier"},{"x":305,"P":124510,"m":"Grossier"},{"x":312,"P":124200,"m":"Grossier"},{"x":317,"P":123950,"m":"Grossier"},{"x":320,"P":123830,"m":"Grossier"},{"x":323,"P":123780,"m":"Grossier"},{"x":326,"P":123830,"m":"Grossier"},{"x":329,"P":124050,"m":"Grossier"},{"x":332,"P":124500,"m":"Grossier"},{"x":334,"P":124830,"m":"Grossier"},{"x":336,"P":123500,"m":"Grossier"},{"x":338,"P":122110,"m":"Grossier"},{"x":340,"P":121050,"m":"Grossier"},{"x":342,"P":121000,"m":"Grossier"},{"x":344.5,"P":120900,"m":"Grossier"},{"x":346.5,"P":120600,"m":"Grossier"},{"x":349.5,"P":120150,"m":"Grossier"},{"x":352,"P":119450,"m":"Grossier"},{"x":354,"P":119250,"m":"Grossier"},{"x":358,"P":119200,"m":"Grossier"},{"x":360.5,"P":119050,"m":"Grossier"},{"x":363,"P":117800,"m":"Grossier"},{"x":366.6,"P":115330,"m":"Grossier"},{"x":368.5,"P":115650,"m":"Grossier"},{"x":372,"P":116050,"m":"Grossier"},{"x":376,"P":116330,"m":"Grossier"},{"x":380,"P":116460,"m":"Grossier"},{"x":384,"P":116450,"m":"Grossier"},{"x":390,"P":116250,"m":"Grossier"},{"x":400,"P":115780,"m":"Grossier"},{"x":450,"P":113390,"m":"Grossier"},{"x":500,"P":111000,"m":"Grossier"},{"x":550,"P":108620,"m":"Grossier"},{"x":600,"P":106230,"m":"Grossier"},{"x":650,"P":103840,"m":"Grossier"},{"x":700,"P":101450,"m":"Grossier"}
]
},
"resolve": {"scale": {"color": "independent", "x": "independent", "y": "independent"}, "legend": {"color": "independent"}},
"vconcat": [
{
  "width": 568.5, "height": 457,
  "data": {"name": "temp"},
  "resolve": {"scale": {"x": "independent", "y": "independent", "color": "independent"}, "axis": {"x": "independent", "y": "independent"}, "legend": {"color": "independent"}},
  "layer": [
    {
      "mark": {"type": "line", "strokeWidth": 2.6, "clip": true},
      "encoding": {
        "x": {"field": "x", "type": "quantitative", "scale": {"domain": [-5, 700], "nice": false, "zero": false},
              "axis": {"orient": "bottom", "values": [0, 200, 400, 600], "format": "d", "tickSize": -7, "labelPadding": 18, "title": "Longueur du canal, (mm)", "titleX": 284, "titleY": 42.5, "titleBaseline": "middle", "titleAlign": "center"}},
        "y": {"field": "T", "type": "quantitative", "scale": {"domain": [297.4245, 307.821], "nice": false, "zero": false},
              "axis": {"orient": "left", "values": [298, 299, 300, 301, 302, 303, 304, 305, 306, 307], "format": "d", "tickSize": -6, "labelPadding": 10.5, "title": "Température, T(K)", "titleX": -97, "titleY": 228.5, "titleAngle": 270, "titleBaseline": "middle", "titleAlign": "center"}},
        "color": {"field": "m", "type": "nominal",
                  "scale": {"domain": ["Plus fin", "Fin", "Normal", "Grossier"], "range": ["#2142d6", "#3dac45", "#c42a2a", "#3ecdcd"]},
                  "legend": {"title": null, "orient": "none", "legendX": 340, "legendY": 18.3, "padding": 5, "symbolOffset": 16, "labelOffset": 19.5, "strokeColor": "#111111", "fillColor": "#ffffff", "zindex": 2}}
      }
    },
    {
      "mark": {"type": "line", "strokeWidth": 2.6, "opacity": 0, "clip": true},
      "encoding": {
        "x": {"field": "x", "type": "quantitative", "scale": {"domain": [-5, 700], "nice": false, "zero": false},
              "axis": {"orient": "top", "values": [0, 200, 400, 600], "tickSize": -7, "labels": false, "title": null}},
        "y": {"field": "T", "type": "quantitative", "scale": {"domain": [297.4245, 307.821], "nice": false, "zero": false},
              "axis": {"orient": "right", "values": [298, 299, 300, 301, 302, 303, 304, 305, 306, 307], "tickSize": -6, "labels": false, "title": null, "domain": false}},
        "color": {"field": "m", "type": "nominal",
                  "scale": {"domain": ["Plus fin", "Fin", "Normal", "Grossier"], "range": ["#b0b0b0", "#b0b0b0", "#b0b0b0", "#b0b0b0"]},
                  "legend": {"title": null, "orient": "none", "legendX": 345, "legendY": 23.3, "padding": 5, "symbolOffset": 16, "labelOffset": 84, "labelExpr": "''", "strokeColor": "transparent", "fillColor": "#b4b4b4", "symbolOpacity": 0, "zindex": 1}}
      }
    }
  ]
},
{
  "width": 568.5, "height": 457,
  "data": {"name": "vit"},
  "resolve": {"scale": {"x": "independent", "y": "independent", "color": "independent"}, "axis": {"x": "independent", "y": "independent"}, "legend": {"color": "independent"}},
  "layer": [
    {
      "mark": {"type": "line", "strokeWidth": 2.6, "clip": true},
      "encoding": {
        "x": {"field": "x", "type": "quantitative", "scale": {"domain": [-5, 700], "nice": false, "zero": false},
              "axis": {"orient": "bottom", "values": [0, 200, 400, 600], "format": "d", "tickSize": -7, "labelPadding": 17.5, "title": "Longueur du canal, (mm)", "titleX": 284, "titleY": 42.5, "titleBaseline": "middle", "titleAlign": "center"}},
        "y": {"field": "v", "type": "quantitative", "scale": {"domain": [-0.12, 6.709], "nice": false, "zero": false},
              "axis": {"orient": "left", "values": [0, 0.5, 1, 1.5, 2, 2.5, 3, 3.5, 4, 4.5, 5, 5.5, 6, 6.5], "format": "~g", "tickSize": -6, "labelPadding": 10.5, "title": "Vitesse, (m/s)", "titleX": -97, "titleY": 228.5, "titleAngle": 270, "titleBaseline": "middle", "titleAlign": "center"}},
        "color": {"field": "m", "type": "nominal",
                  "scale": {"domain": ["Plus fin", "Fin", "Normal", "Grossier"], "range": ["#4a66a0", "#55b55a", "#b83434", "#42c9cc"]},
                  "legend": {"title": null, "orient": "none", "legendX": 414, "legendY": 18.5, "padding": 12, "symbolOffset": 14.75, "labelOffset": 16.5, "strokeColor": "#111111", "fillColor": "#ffffff", "zindex": 2}}
      }
    },
    {
      "mark": {"type": "line", "strokeWidth": 2.6, "opacity": 0, "clip": true},
      "encoding": {
        "x": {"field": "x", "type": "quantitative", "scale": {"domain": [-5, 700], "nice": false, "zero": false},
              "axis": {"orient": "top", "values": [0, 200, 400, 600], "tickSize": -7, "labels": false, "title": null}},
        "y": {"field": "v", "type": "quantitative", "scale": {"domain": [-0.12, 6.709], "nice": false, "zero": false},
              "axis": {"orient": "right", "values": [0, 0.5, 1, 1.5, 2, 2.5, 3, 3.5, 4, 4.5, 5, 5.5, 6, 6.5], "tickSize": -6, "labels": false, "title": null, "domain": false}},
        "color": {"field": "m", "type": "nominal",
                  "scale": {"domain": ["Plus fin", "Fin", "Normal", "Grossier"], "range": ["#b0b0b0", "#b0b0b0", "#b0b0b0", "#b0b0b0"]},
                  "legend": {"title": null, "orient": "none", "legendX": 419, "legendY": 23.5, "padding": 12, "symbolOffset": 14.75, "labelOffset": 81, "labelExpr": "''", "strokeColor": "transparent", "fillColor": "#b4b4b4", "symbolOpacity": 0, "zindex": 1}}
      }
    }
  ]
},
{
  "width": 568.5, "height": 457,
  "data": {"name": "pres"},
  "resolve": {"scale": {"x": "independent", "y": "independent", "color": "independent"}, "axis": {"x": "independent", "y": "independent"}, "legend": {"color": "independent"}},
  "layer": [
    {
      "mark": {"type": "line", "strokeWidth": 2.6, "clip": true},
      "encoding": {
        "x": {"field": "x", "type": "quantitative", "scale": {"domain": [-5, 700], "nice": false, "zero": false},
              "axis": {"orient": "bottom", "values": [0, 200, 400, 600], "format": "d", "tickSize": -7, "labelPadding": 15, "title": "Longueur du canal, (mm)", "titleX": 284, "titleY": 40, "titleBaseline": "middle", "titleAlign": "center"}},
        "y": {"field": "P", "type": "quantitative", "scale": {"domain": [100669, 138696], "nice": false, "zero": false},
              "axis": {"orient": "left", "values": [102000, 104000, 106000, 108000, 110000, 112000, 114000, 116000, 118000, 120000, 122000, 124000, 126000, 128000, 130000, 132000, 134000, 136000], "labelExpr": "format(datum.value / 100000, '~g')", "tickSize": -6, "labelPadding": 10.5, "title": "Pression, (Pa)", "titleX": -97, "titleY": 228.5, "titleAngle": 270, "titleBaseline": "middle", "titleAlign": "center"}},
        "color": {"field": "m", "type": "nominal",
                  "scale": {"domain": ["Plus fin", "Fin", "Normal", "Grossier"], "range": ["#3f5b94", "#55b55a", "#b83434", "#45c6c8"]},
                  "legend": {"title": null, "orient": "none", "legendX": 420.5, "legendY": 24, "padding": 5, "symbolOffset": 17, "labelOffset": 20, "strokeColor": "#111111", "fillColor": "#ffffff", "zindex": 2}}
      }
    },
    {
      "mark": {"type": "line", "strokeWidth": 2.6, "opacity": 0, "clip": true},
      "encoding": {
        "x": {"field": "x", "type": "quantitative", "scale": {"domain": [-5, 700], "nice": false, "zero": false},
              "axis": {"orient": "top", "values": [0, 200, 400, 600], "tickSize": -7, "labels": false, "title": "×10⁵", "titleX": -35, "titleY": 10, "titleAngle": 0, "titleAlign": "right", "titleBaseline": "middle"}},
        "y": {"field": "P", "type": "quantitative", "scale": {"domain": [100669, 138696], "nice": false, "zero": false},
              "axis": {"orient": "right", "values": [102000, 104000, 106000, 108000, 110000, 112000, 114000, 116000, 118000, 120000, 122000, 124000, 126000, 128000, 130000, 132000, 134000, 136000], "tickSize": -6, "labels": false, "title": null, "domain": false}},
        "color": {"field": "m", "type": "nominal",
                  "scale": {"domain": ["Plus fin", "Fin", "Normal", "Grossier"], "range": ["#b0b0b0", "#b0b0b0", "#b0b0b0", "#b0b0b0"]},
                  "legend": {"title": null, "orient": "none", "legendX": 425.5, "legendY": 29, "padding": 5, "symbolOffset": 17, "labelOffset": 84.5, "labelExpr": "''", "strokeColor": "transparent", "fillColor": "#b4b4b4", "symbolOpacity": 0, "zindex": 1}}
      }
    }
  ]
}
]
}
